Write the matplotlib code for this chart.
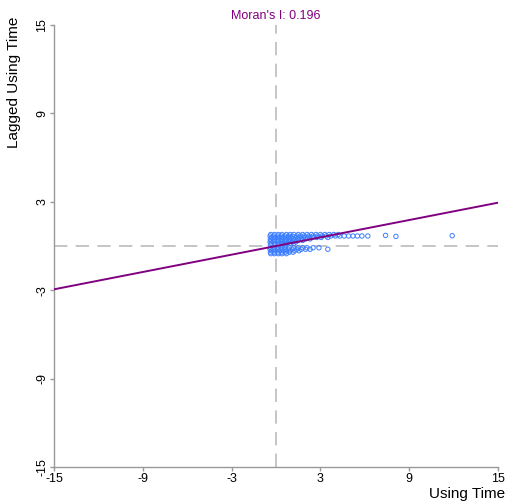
import matplotlib
matplotlib.use("Agg")
import matplotlib.pyplot as plt

plt.rcParams['font.family'] = ['Liberation Sans', 'DejaVu Sans']

morans_i = 0.196
x_ticks = [-15, -9, -3, 3, 9, 15]
y_ticks = [-15, -9, -3, 3, 9, 15]

# scatter points grouped by row (lagged value) -> list of x values
row_y = [0.78, 0.68, 0.58, 0.48, 0.38, 0.28, 0.18, 0.08,
         -0.12, -0.22, -0.32, -0.42, -0.52]
row_x = [
    [-0.35, -0.1, 0.15, 0.4, 0.7, 0.95, 1.2, 1.5, 1.8, 2.1, 2.4, 2.7, 3.0, 3.3, 3.6, 3.9, 4.2],
    [-0.4, -0.15, 0.1, 0.35, 0.6, 0.85, 1.1, 1.4, 1.65, 1.9, 2.2, 2.5, 2.8, 3.1, 3.4, 3.7, 4.0, 4.3, 4.6, 4.9, 5.2, 5.5, 5.8, 6.2],
    [-0.3, -0.05, 0.2, 0.45, 0.75, 1.0, 1.3, 1.55, 1.85, 2.15, 2.45, 2.75, 3.05, 3.5],
    [-0.38, -0.12, 0.12, 0.38, 0.62, 0.9, 1.15, 1.45, 1.75, 2.0, 2.3],
    [-0.35, -0.1, 0.18, 0.42, 0.7, 0.95, 1.25, 1.5, 1.8],
    [-0.4, -0.15, 0.1, 0.35, 0.6, 0.85, 1.1, 1.35],
    [-0.32, -0.08, 0.2, 0.45, 0.7, 0.98, 1.2],
    [-0.38, -0.12, 0.15, 0.4, 0.65],
    [-0.35, -0.1, 0.15, 0.4, 0.65, 0.9, 1.2, 1.5, 1.8, 2.1, 2.5, 2.9],
    [-0.4, -0.15, 0.1, 0.35, 0.6, 0.85, 1.1, 1.4, 1.7, 2.0, 2.3, 3.5],
    [-0.3, -0.05, 0.2, 0.45, 0.7, 0.95, 1.25, 1.55],
    [-0.38, -0.12, 0.12, 0.38, 0.62, 0.9, 1.15],
    [-0.35, -0.1, 0.15, 0.4, 0.7],
]
outlier_x = [7.4, 8.1, 11.9]
outlier_y = [0.72, 0.65, 0.70]

xs, ys = [], []
for yv, xr in zip(row_y, row_x):
    for xv in xr:
        xs.append(xv)
        ys.append(yv)
xs += outlier_x
ys += outlier_y

fig = plt.figure(figsize=(5.14, 5.04), dpi=100)
ax = fig.add_axes([0.105, 0.0734, 0.864, 0.877])

grey = '#999999'
ax.axvline(0, color='#bbbbbb', lw=1.2, ls=(0, (8, 5)), zorder=1)
ax.axhline(0, color='#bbbbbb', lw=1.2, ls=(0, (8, 5)), zorder=1)

ax.scatter(xs, ys, s=10, facecolors='none', edgecolors='#3d7fff', linewidths=0.7, zorder=2)
ax.plot([-15, 15], [-15 * morans_i, 15 * morans_i], color='#800080', lw=1.4, zorder=3)

ax.set_xlim(-15, 15)
ax.set_ylim(-15, 15)
ax.set_xticks(x_ticks)
ax.set_yticks(y_ticks)
ax.set_xticklabels([str(v) for v in x_ticks], fontsize=9)
ax.set_yticklabels([str(v) for v in y_ticks], fontsize=9, rotation=90, va='center')

for s in ['top', 'right']:
    ax.spines[s].set_visible(False)
for s in ['left', 'bottom']:
    ax.spines[s].set_color(grey)
    ax.spines[s].set_linewidth(1.0)
ax.tick_params(colors=grey, labelcolor='black', length=3, width=1.0, pad=1.5)
ax.tick_params(axis='y', pad=1.0)

ax.set_title("Moran's I: 0.196", color='#800080', fontsize=9, pad=4)
ax.set_xlabel('Using Time', fontsize=11, loc='right')
ax.xaxis.set_label_coords(1.016, -0.046)
ax.set_ylabel('Lagged Using Time', fontsize=11, loc='top')
ax.yaxis.set_label_coords(-0.074, 1.02)

fig.savefig('out.png', dpi=100)
